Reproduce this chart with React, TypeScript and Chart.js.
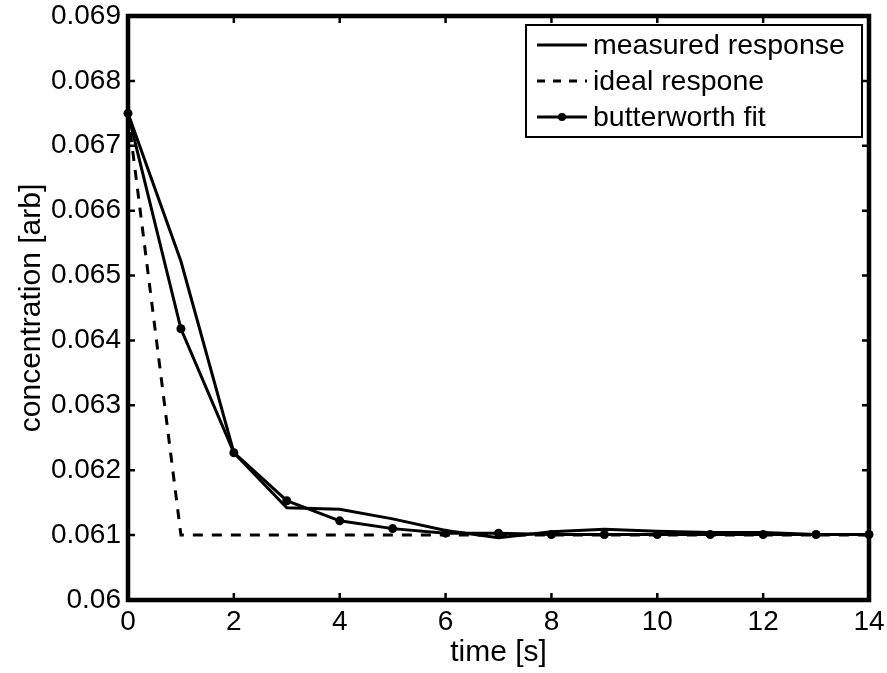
import React, { useEffect, useRef } from "react";
import { Chart, registerables } from "chart.js";

Chart.register(...registerables);

const time = [0, 1, 2, 3, 4, 5, 6, 7, 8, 9, 10, 11, 12, 13, 14];
const measured = [0.0675, 0.06522, 0.06227, 0.06142, 0.0614, 0.06125, 0.06107, 0.06096, 0.06105, 0.06109, 0.06106, 0.06104, 0.06104, 0.06101, 0.06101];
const ideal = [0.0675, 0.0610, 0.0610, 0.0610, 0.0610, 0.0610, 0.0610, 0.0610, 0.0610, 0.0610, 0.0610, 0.0610, 0.0610, 0.0610, 0.0610];
const butterworth = [0.0675, 0.06418, 0.06227, 0.06153, 0.06122, 0.0611, 0.06103, 0.06103, 0.06101, 0.06101, 0.06101, 0.06101, 0.06101, 0.06101, 0.06101];
const seriesNames = ["measured response", "ideal respone", "butterworth fit"];
const xTitle = "time [s]";
const yTitle = "concentration [arb]";

const FONT = "'Liberation Sans', Arial, Helvetica, sans-serif";

const toPts = (ys: number[]) => ys.map((y, i) => ({ x: time[i], y }));

const framePlugin = {
  id: "matlabFrame",
  afterDraw(chart: any) {
    const { ctx, chartArea, scales } = chart;
    const { left, right, top, bottom } = chartArea;
    ctx.save();
    ctx.strokeStyle = "#000";
    // ticks
    ctx.lineWidth = 2.5;
    const tl = 7;
    scales.x.ticks.forEach((t: any) => {
      const px = scales.x.getPixelForValue(t.value);
      ctx.beginPath();
      ctx.moveTo(px, bottom);
      ctx.lineTo(px, bottom - tl);
      ctx.moveTo(px, top);
      ctx.lineTo(px, top + tl);
      ctx.stroke();
    });
    scales.y.ticks.forEach((t: any) => {
      const py = scales.y.getPixelForValue(t.value);
      ctx.beginPath();
      ctx.moveTo(left, py);
      ctx.lineTo(left + tl, py);
      ctx.moveTo(right, py);
      ctx.lineTo(right - tl, py);
      ctx.stroke();
    });
    // frame
    ctx.lineWidth = 4.5;
    ctx.strokeRect(left, top, right - left, bottom - top);

    // legend
    const bx = 526, by = 25, bw = 336, bh = 112;
    ctx.fillStyle = "#fff";
    ctx.fillRect(bx, by, bw, bh);
    ctx.lineWidth = 2;
    ctx.strokeRect(bx, by, bw, bh);
    const rows = [45, 81, 117];
    const x0 = 537, x1 = 587;
    ctx.lineWidth = 3;
    ctx.beginPath();
    ctx.moveTo(x0, rows[0]);
    ctx.lineTo(x1, rows[0]);
    ctx.stroke();
    ctx.setLineDash([8, 8]);
    ctx.beginPath();
    ctx.moveTo(x0, rows[1]);
    ctx.lineTo(x1, rows[1]);
    ctx.stroke();
    ctx.setLineDash([]);
    ctx.beginPath();
    ctx.moveTo(x0, rows[2]);
    ctx.lineTo(x1, rows[2]);
    ctx.stroke();
    ctx.fillStyle = "#000";
    ctx.beginPath();
    ctx.arc((x0 + x1) / 2, rows[2], 4, 0, Math.PI * 2);
    ctx.fill();
    ctx.font = `28.5px ${FONT}`;
    ctx.textBaseline = "middle";
    ctx.textAlign = "left";
    seriesNames.forEach((n, i) => ctx.fillText(n, 593, rows[i] + 1));
    ctx.restore();
  },
};

export default function App() {
  const ref = useRef<HTMLCanvasElement>(null);
  useEffect(() => {
    if (!ref.current) return;
    const chart = new Chart(ref.current, {
      type: "line",
      data: {
        datasets: [
          {
            label: seriesNames[0],
            data: toPts(measured),
            borderColor: "#000",
            borderWidth: 3,
            pointRadius: 0,
            tension: 0,
            clip: 10,
          },
          {
            label: seriesNames[1],
            data: toPts(ideal),
            borderColor: "#000",
            borderWidth: 3,
            borderDash: [10, 9],
            pointRadius: 0,
            tension: 0,
            clip: 10,
          },
          {
            label: seriesNames[2],
            data: toPts(butterworth),
            borderColor: "#000",
            backgroundColor: "#000",
            borderWidth: 3,
            pointRadius: 4.5,
            pointBackgroundColor: "#000",
            pointBorderWidth: 0,
            tension: 0,
            clip: 10,
          },
        ],
      },
      options: {
        responsive: false,
        animation: false,
        devicePixelRatio: 1,
        layout: { padding: { left: 0, top: 16, right: 18, bottom: 0 } },
        plugins: { legend: { display: false }, tooltip: { enabled: false } },
        scales: {
          x: {
            type: "linear",
            min: 0,
            max: 14,
            grid: { display: false, drawTicks: false },
            border: { display: false },
            ticks: {
              stepSize: 2,
              color: "#000",
              padding: 8,
              font: { family: FONT, size: 28, lineHeight: 1 },
              maxRotation: 0,
            },
            title: {
              display: true,
              text: xTitle,
              color: "#000",
              font: { family: FONT, size: 30, lineHeight: 1.2 },
              padding: { top: 0, bottom: 2 },
            },
            afterFit: (s: any) => {
              s.height = 73;
              s.paddingLeft = 0;
              s.paddingRight = 0;
              s.paddingTop = 0;
              s.paddingBottom = 0;
            },
          },
          y: {
            type: "linear",
            min: 0.06,
            max: 0.069,
            grid: { display: false, drawTicks: false },
            border: { display: false },
            ticks: {
              stepSize: 0.001,
              color: "#000",
              padding: 7,
              font: { family: FONT, size: 28, lineHeight: 1 },
              callback: (v: any) => Number(v).toFixed(3).replace(/0+$/, ""),
            },
            title: {
              display: true,
              text: yTitle,
              color: "#000",
              font: { family: FONT, size: 30, lineHeight: 1.2 },
              padding: { top: 14, bottom: 0 },
            },
            afterFit: (s: any) => {
              s.width = 128;
              s.paddingLeft = 0;
              s.paddingRight = 0;
              s.paddingTop = 0;
              s.paddingBottom = 0;
            },
          },
        },
      },
      plugins: [framePlugin],
    });
    return () => chart.destroy();
  }, []);
  return (
    <div style={{ position: "absolute", left: 0, top: 0, width: 887, height: 673, background: "#fff" }}>
      <canvas ref={ref} width={887} height={673} />
    </div>
  );
}
